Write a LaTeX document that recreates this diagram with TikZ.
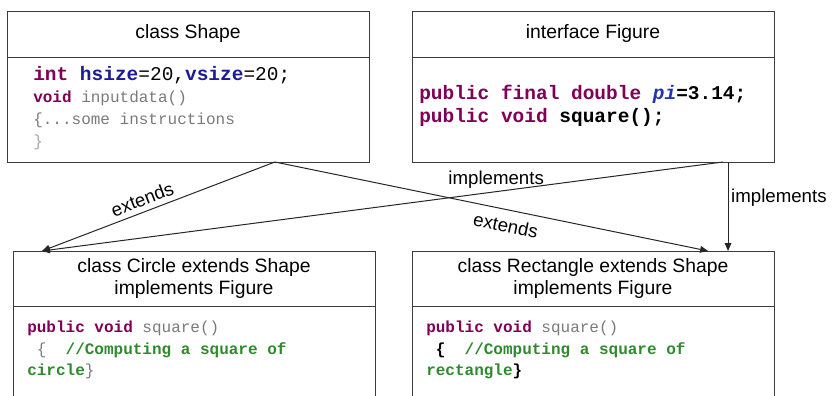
\documentclass[tikz,border=0pt]{standalone}
\usepackage{fontspec}
\setmainfont{Liberation Sans}
\setmonofont{Liberation Mono}
\usetikzlibrary{arrows.meta, positioning, calc}
\definecolor{KeyPurple}{HTML}{7F0055}
\definecolor{VarBlue}{HTML}{1C1C96}
\definecolor{PiBlue}{HTML}{2233B0}
\definecolor{CodeGray}{HTML}{7A7A7A}
\definecolor{CommentGreen}{HTML}{2F8A2F}
\definecolor{LineGray}{HTML}{3C3C3C}
\newcommand{\kw}[1]{\textbf{\textcolor{KeyPurple}{#1}}}
\newcommand{\grey}[1]{\textcolor{CodeGray}{#1}}
\newcommand{\cmt}[1]{\textbf{\textcolor{CommentGreen}{#1}}}

\begin{document}
\begin{tikzpicture} [
			x=0.75pt, y=-0.75pt,
			>={Triangle[length=6pt,width=5pt]},
			head/.style={draw=LineGray,line width=0.75pt,rectangle,inner sep=0pt,outer sep=0pt,minimum width=271.5pt,align=center,font=\fontsize{14.5}{17}\selectfont},
			body/.style={head,font=\normalsize},
			code/.style={anchor=north west,inner sep=0pt,align=left,font=\ttfamily\fontsize{12}{16.5}\selectfont},
			link/.style={->,draw=black!85,line width=0.75pt},
			legend/.style={font=\fontsize{14}{16}\selectfont,inner sep=2pt}
		]
			\useasboundingbox (0,0) rectangle (835,396);
			\clip (0,0) rectangle (835,396);
			% top row
			\node at (7,11) [head,anchor=north west,minimum height=34.5pt] (shapeHead) {class Shape};
			\node [body,below=0pt of shapeHead,minimum height=78.75pt] (shapeBody) {};
			\node at (412,11) [head,anchor=north west,minimum height=34.5pt] (figHead) {interface Figure};
			\node [body,below=0pt of figHead,minimum height=78.75pt] (figBody) {};
			% bottom row
			\node at (13,251) [head,anchor=north west,minimum height=41.25pt] (circleHead) {class Circle extends Shape\\implements Figure};
			\node [body,below=0pt of circleHead,minimum height=90pt] (circleBody) {};
			\node at (412,251) [head,anchor=north west,minimum height=41.25pt] (rectHead) {class Rectangle extends Shape\\implements Figure};
			\node [body,below=0pt of rectHead,minimum height=90pt] (rectBody) {};
			% code
			\node at (33,66) [code] (shapeCode) {{\fontsize{14.6}{16.5}\selectfont\kw{int} \textbf{\textcolor{VarBlue}{hsize}}=20,\textbf{\textcolor{VarBlue}{vsize}}=20;}\\
				\kw{void} \grey{inputdata()}\\
				\grey{\{...some instructions}\\
				\textcolor{black!35}{\}}};
			\node at (419,85) [code,font=\ttfamily\fontsize{14.6}{17.25}\selectfont] (figCode) {\kw{public final double} \textbf{\textcolor{PiBlue}{\textit{pi}}=3.14;}\\
				\kw{public void} \textbf{square();}};
			\node at (27,321) [code,font=\ttfamily\fontsize{12}{16}\selectfont] (circleCode) {\kw{public void} \grey{square()}\\
				\hphantom{x}\grey{\{}\ \ \cmt{//Computing a square of}\\
				\cmt{circle}\grey{\}}};
			\node at (426,321) [code,font=\ttfamily\fontsize{12}{16}\selectfont] (rectCode) {\kw{public void} \grey{square()}\\
				\hphantom{x}\textbf{\{}\ \ \cmt{//Computing a square of}\\
				\cmt{rectangle}\textbf{\}}};
			% connectors
			\coordinate (shapeOut) at ($(shapeBody.south west)!0.74!(shapeBody.south east)$);
			\coordinate (figOut) at ($(figBody.south west)!0.859!(figBody.south east)$);
			\coordinate (figDown) at ($(figBody.south west)!0.873!(figBody.south east)$);
			\coordinate (circleIn) at ($(circleHead.north west)!0.08!(circleHead.north east)$);
			\coordinate (rectIn) at ($(rectHead.north west)!0.818!(rectHead.north east)$);
			\draw[link] (shapeOut) -- node [legend,sloped,above,pos=0.55,inner sep=4pt] {extends} (circleIn);
			\draw[link] (shapeOut) -- node [legend,sloped,below,pos=0.54,inner sep=6pt] {extends} (rectIn);
			\draw[link] (figOut) -- node [legend,above,pos=0.333] {implements} (circleIn);
			\draw[link] (figDown) -- node [legend,right,pos=0.4] {implements} (figDown |- rectHead.north);
		\end{tikzpicture}
\end{document}
